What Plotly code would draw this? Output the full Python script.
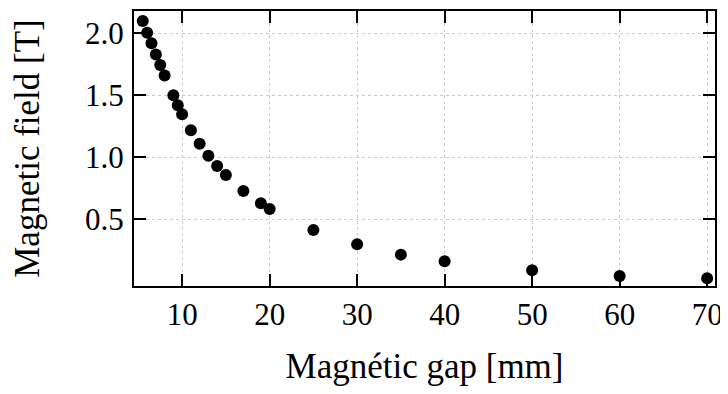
import plotly.graph_objects as go

gap_mm = [5.5, 6, 6.5, 7, 7.5, 8, 9, 9.5, 10, 11, 12, 13, 14, 15, 17, 19, 20, 25, 30, 35, 40, 50, 60, 70]
field_T = [2.10, 2.005, 1.92, 1.83, 1.745, 1.66, 1.50, 1.42, 1.347, 1.218, 1.11, 1.013, 0.93, 0.857,
           0.729, 0.629, 0.583, 0.414, 0.298, 0.215, 0.161, 0.089, 0.043, 0.024]
x_ticks = [10, 20, 30, 40, 50, 60, 70]
y_ticks = [0.5, 1.0, 1.5, 2.0]

font_family = "Liberation Serif"

fig = go.Figure(go.Scatter(
    x=gap_mm, y=field_T, mode="markers",
    marker=dict(color="black", size=12),
))

axis_common = dict(
    showline=True, linecolor="black", linewidth=2, mirror="allticks",
    ticks="inside", ticklen=12, tickwidth=2, tickcolor="black",
    showgrid=True, gridcolor="#cccccc", griddash="dot", gridwidth=1,
    zeroline=False, automargin=False,
    tickfont=dict(family=font_family, size=31, color="black"),
)

# page body has an 8px margin, so the figure is offset by 8px
fig.update_layout(
    width=720, height=378,
    margin=dict(l=126, r=13, t=3, b=100),
    plot_bgcolor="white", paper_bgcolor="white",
    showlegend=False,
    font=dict(family=font_family, color="black"),
    xaxis=dict(
        range=[4.5, 70.9], tickvals=x_ticks, ticktext=[str(v) for v in x_ticks],
        title=dict(text="Magnétic gap [mm]", font=dict(family=font_family, size=35), standoff=24),
        **axis_common,
    ),
    yaxis=dict(
        range=[-0.038, 2.18], tickvals=y_ticks, ticktext=[f"{v:.1f}" for v in y_ticks],
        title=dict(text="Magnetic field [T]", font=dict(family=font_family, size=35), standoff=46),
        ticklabelstandoff=2,
        **axis_common,
    ),
)

fig.write_html("out.html")
